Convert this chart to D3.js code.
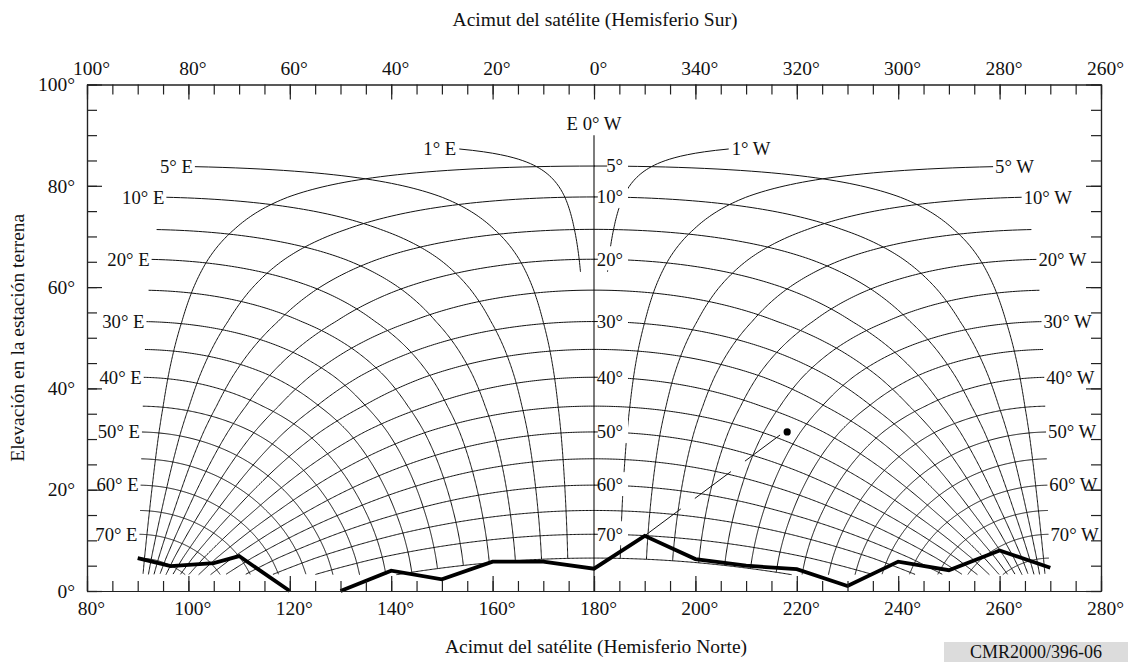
<!DOCTYPE html>
<html>
<head>
<meta charset="utf-8">
<script src="https://cdn.jsdelivr.net/npm/d3@7"></script>
<style>
  body { margin: 0; background: #fff; }
  text { font-family: "Liberation Serif", "Times New Roman", serif; fill: #111; }
</style>
</head>
<body>
<svg id="chart" width="1132" height="670"></svg>
<script>
// Axis ticks
const azMajor = [80, 100, 120, 140, 160, 180, 200, 220, 240, 260, 280];
const elevMajor = [0, 20, 40, 60, 80, 100];

// Grid: longitude difference (satellite - station) and station latitude
const lonDiffs = [5, 10, 15, 20, 25, 30, 35, 40, 45, 50, 55, 60, 65, 70, 75];
const lonLabelled = [5, 10, 20, 30, 40, 50, 60, 70];
const latitudes = [5, 10, 15, 20, 25, 30, 35, 40, 45, 50, 55, 60, 65, 70, 75];
const latLabelled = [5, 10, 20, 30, 40, 50, 60, 70];

// Elevation read on the 180° line for each central angle
const gammaRead = [0, 5, 10, 15, 20, 25, 30, 35, 40, 45, 50, 55, 60, 65, 70, 75];
const elevRead = [90, 83.9, 77.8, 71.4, 65.5, 59.4, 53.2, 47.7, 42.2, 36.5, 31.4, 26.1, 20.9, 15.9, 11.2, 6.5];

// Thick horizon profile (null = break)
const horizonAz = [90, 96.5, 105, 110, 120, null, 130, 140, 150, 160, 170, 180, 190, 200, 210, 220, 230, 240, 250, 260, 270];
const horizonElev = [6.5, 4.9, 5.5, 6.9, 0, null, 0, 4.0, 2.3, 5.8, 5.8, 4.4, 10.9, 6.3, 5.0, 4.3, 1.0, 5.8, 4.1, 8.0, 4.6];

// Marked point and its leader line
const markPoint = [218.1, 31.4];
const leaderAz = [190, 216.7];
const leaderElev = [10.9, 30.8];

let width = 1132;
let height = 670;
let plot = { left: 87, right: 1101, top: 84.5, bottom: 591 };

let svg = d3.select("#chart");

let x = d3.scaleLinear().domain([80, 280]).range([plot.left, plot.right]);
let y = d3.scaleLinear().domain([0, 100]).range([plot.bottom, plot.top]);

// Geostationary look angles
const rad = Math.PI / 180;
const ratio = 0.1513;
function exactElev(g) {
    return Math.atan((Math.cos(g * rad) - ratio) / Math.sin(g * rad)) / rad;
}
const elevShift = d3.scaleLinear()
    .domain(gammaRead)
    .range(gammaRead.map((g, i) => i === 0 ? 0 : elevRead[i] - exactElev(g)))
    .clamp(true);

function look(lat, dl, side) {
    let g = Math.acos(Math.cos(lat * rad) * Math.cos(dl * rad)) / rad;
    let a = Math.atan2(Math.tan(dl * rad), Math.sin(lat * rad)) / rad;
    let el = g === 0 ? 90 : exactElev(g) + elevShift(g);
    return [180 + side * a, el];
}

const minElev = 3.2;
function curve(from, to, fn) {
    let pts = [];
    for (let t = from; t <= to + 1e-9; t += 0.25) {
        let p = fn(t);
        if (p[1] < minElev) break;
        pts.push(p);
    }
    return pts;
}

let line = d3.line().x(d => x(d[0])).y(d => y(d[1]));

svg.append("defs").append("clipPath").attr("id", "plotclip")
    .append("rect")
    .attr("x", plot.left).attr("y", plot.top)
    .attr("width", plot.right - plot.left).attr("height", plot.bottom - plot.top);

let grid = svg.append("g")
    .attr("clip-path", "url(#plotclip)")
    .attr("fill", "none")
    .attr("stroke", "#111")
    .attr("stroke-width", 1);

let labels = svg.append("g").style("font-size", "18.7px");

[-1, 1].forEach(side => {
    // constant longitude difference
    lonDiffs.forEach(dl => {
        let pts = curve(1, 75, lat => look(lat, dl, side));
        grid.append("path").attr("d", line(pts));
        if (lonLabelled.includes(dl)) {
            labels.append("text")
                .attr("x", x(pts[0][0]) + (side < 0 ? -2 : 2))
                .attr("y", y(pts[0][1]) + 6.3)
                .attr("text-anchor", side < 0 ? "end" : "start")
                .text(dl + "° " + (side < 0 ? "E" : "W"));
        }
    });
    // 1 degree curve
    let one = curve(2, 22, lat => look(lat, 1, side));
    grid.append("path").attr("d", line(one));
    labels.append("text")
        .attr("x", x(one[0][0]) + (side < 0 ? -3 : 3))
        .attr("y", y(one[0][1]) + 6.3)
        .attr("text-anchor", side < 0 ? "end" : "start")
        .text("1° " + (side < 0 ? "E" : "W"));
    // constant latitude
    latitudes.forEach(lat => {
        let pts = curve(0, 81, dl => look(lat, dl, side));
        grid.append("path").attr("d", line(pts));
    });
});

// Latitude labels on the 180° line, masking what passes behind them
let centre = svg.append("g").style("font-size", "18.7px");
latLabelled.forEach(lat => {
    let yy = y(look(lat, 0, 1)[1]);
    centre.append("rect")
        .attr("x", x(180) + 1).attr("y", yy - 13)
        .attr("width", 33).attr("height", 24)
        .attr("fill", "#fff");
    let t = centre.append("text")
        .attr("x", x(180) + 29).attr("y", yy + 6.3)
        .attr("text-anchor", "end")
        .text(lat + "°");
    let bb = t.node().getBBox();
    centre.append("line")
        .attr("x1", x(180)).attr("x2", bb.x + 1)
        .attr("y1", yy).attr("y2", yy)
        .attr("stroke", "#111").attr("stroke-width", 1);
});

// 0 degree line
svg.append("line")
    .attr("x1", x(180)).attr("x2", x(180))
    .attr("y1", y(90)).attr("y2", y(0))
    .attr("stroke", "#111").attr("stroke-width", 1.1);
svg.append("text")
    .attr("x", x(180)).attr("y", y(90) - 5)
    .attr("text-anchor", "middle")
    .style("font-size", "18.7px")
    .text("E 0° W");

// Leader line and marked point
svg.append("path")
    .attr("d", line(leaderAz.map((a, i) => [a, leaderElev[i]])))
    .attr("fill", "none").attr("stroke", "#111").attr("stroke-width", 1)
    .attr("stroke-dasharray", "45,17.5");
svg.append("circle")
    .attr("cx", x(markPoint[0])).attr("cy", y(markPoint[1]))
    .attr("r", 3.6).attr("fill", "#000");

// Horizon profile
let horizon = horizonAz.map((a, i) => [a, horizonElev[i]]);
svg.append("path")
    .attr("d", d3.line().defined(d => d[0] !== null).x(d => x(d[0])).y(d => y(d[1]))(horizon))
    .attr("fill", "none").attr("stroke", "#000")
    .attr("stroke-width", 3.8).attr("stroke-linejoin", "miter");

// Axes
let minorAz = d3.range(80, 281, 5);
let minorEl = d3.range(0, 101, 5);
function styleAxis(g) {
    g.attr("font-family", null).attr("font-size", null);
    g.selectAll("line, path").attr("stroke", "#222").attr("stroke-width", 1.2);
    g.selectAll("text").style("font-size", "19.5px").attr("fill", "#111");
}

svg.append("g")
    .attr("transform", `translate(0,${plot.bottom})`)
    .call(d3.axisBottom(x).tickValues(minorAz).tickSizeInner(-10).tickSizeOuter(0).tickFormat(""))
    .call(styleAxis);
svg.append("g")
    .attr("transform", `translate(0,${plot.bottom})`)
    .call(d3.axisBottom(x).tickValues(azMajor).tickSizeInner(-15).tickSizeOuter(0).tickPadding(10)
        .tickFormat(d => d + "°"))
    .call(styleAxis)
    .selectAll("text").attr("dx", "0.2em");

svg.append("g")
    .attr("transform", `translate(0,${plot.top})`)
    .call(d3.axisTop(x).tickValues(minorAz).tickSizeInner(-10).tickSizeOuter(0).tickFormat(""))
    .call(styleAxis);
svg.append("g")
    .attr("transform", `translate(0,${plot.top})`)
    .call(d3.axisTop(x).tickValues(azMajor).tickSizeInner(-15).tickSizeOuter(0).tickPadding(10)
        .tickFormat(d => ((180 - d + 360) % 360) + "°"))
    .call(styleAxis)
    .selectAll("text").attr("dx", "0.2em");

svg.append("g")
    .attr("transform", `translate(${plot.left},0)`)
    .call(d3.axisLeft(y).tickValues(minorEl).tickSizeInner(-10).tickSizeOuter(0).tickFormat(""))
    .call(styleAxis);
svg.append("g")
    .attr("transform", `translate(${plot.left},0)`)
    .call(d3.axisLeft(y).tickValues(elevMajor).tickSizeInner(-15).tickSizeOuter(0).tickPadding(12)
        .tickFormat(d => d + "°"))
    .call(styleAxis);

svg.append("g")
    .attr("transform", `translate(${plot.right},0)`)
    .call(d3.axisRight(y).tickValues(minorEl).tickSizeInner(-10).tickSizeOuter(0).tickFormat(""))
    .call(styleAxis);
svg.append("g")
    .attr("transform", `translate(${plot.right},0)`)
    .call(d3.axisRight(y).tickValues(elevMajor).tickSizeInner(-15).tickSizeOuter(0).tickFormat(""))
    .call(styleAxis);

// Titles
svg.append("text")
    .attr("x", 595).attr("y", 26)
    .attr("text-anchor", "middle").style("font-size", "19.5px")
    .text("Acimut del satélite (Hemisferio Sur)");
svg.append("text")
    .attr("x", 596).attr("y", 653)
    .attr("text-anchor", "middle").style("font-size", "19.5px")
    .text("Acimut del satélite (Hemisferio Norte)");
svg.append("text")
    .attr("transform", `translate(24,${(plot.top + plot.bottom) / 2}) rotate(-90)`)
    .attr("text-anchor", "middle").style("font-size", "19.5px")
    .text("Elevación en la estación terrena");

svg.append("rect")
    .attr("x", 944).attr("y", 642).attr("width", 184).attr("height", 20)
    .attr("fill", "#dcdcdc");
svg.append("text")
    .attr("x", 1036).attr("y", 658)
    .attr("text-anchor", "middle").style("font-size", "18px")
    .text("CMR2000/396-06");
</script>
</body>
</html>
